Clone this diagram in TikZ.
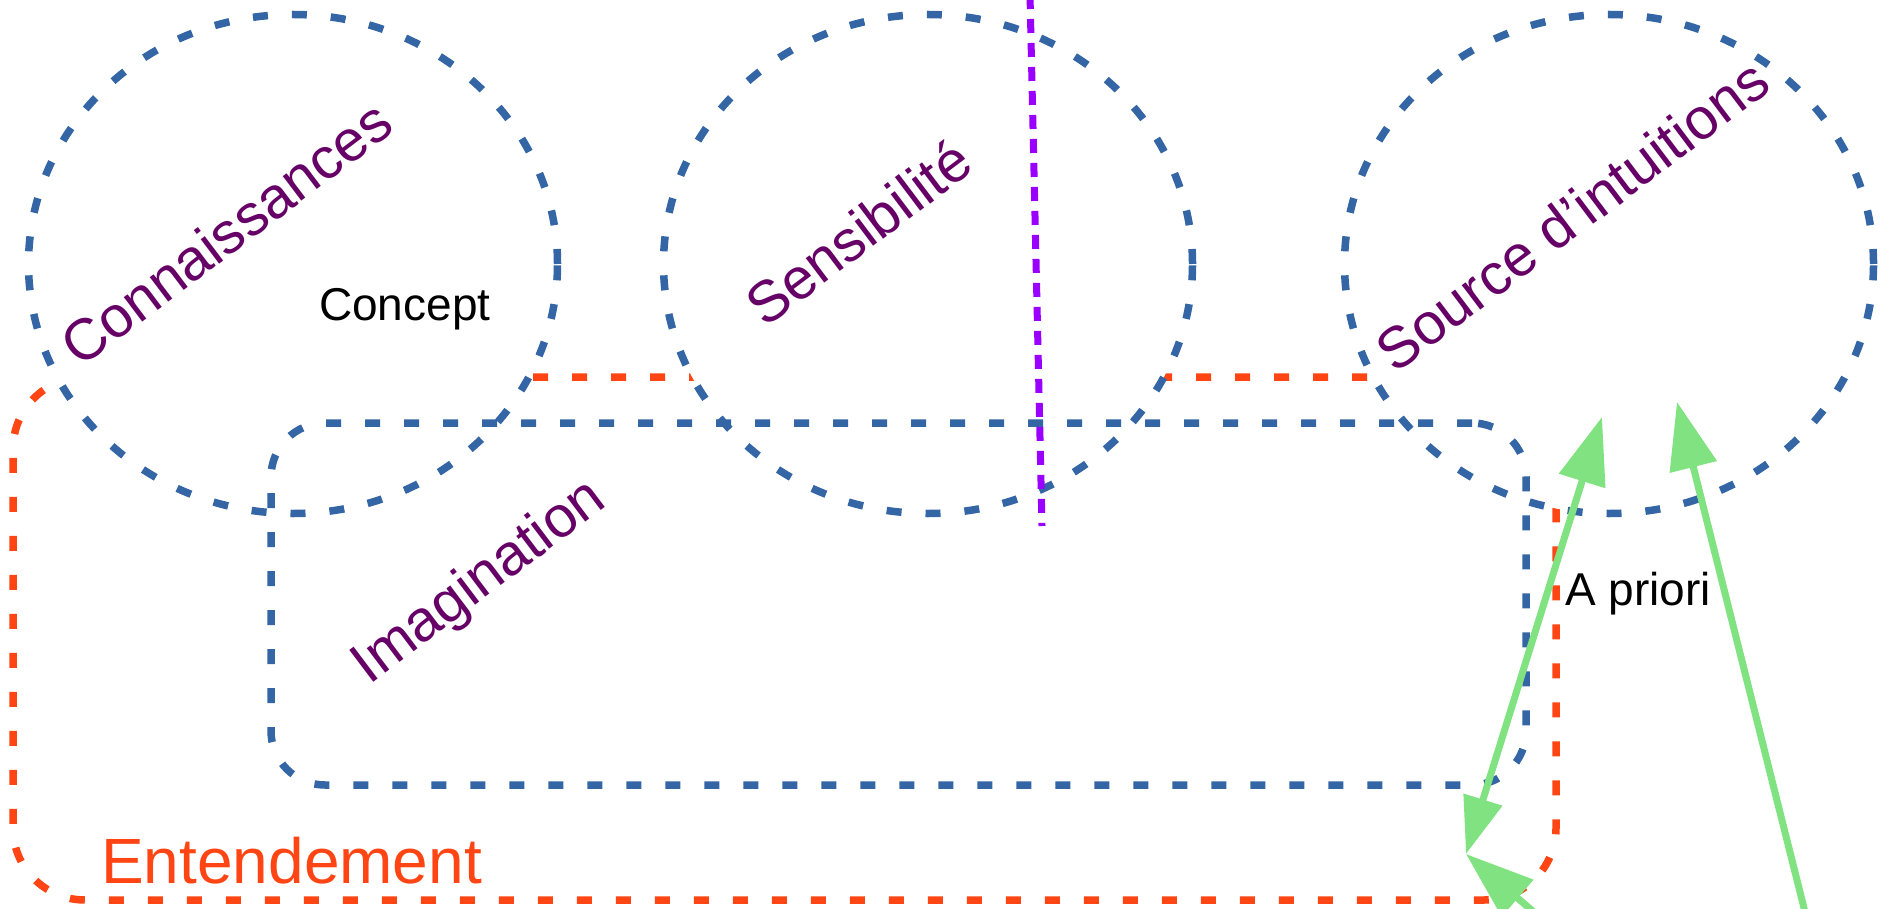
\documentclass[tikz,border=0pt]{standalone}
\usepackage{fontspec}
\setmainfont{Liberation Sans}
\usetikzlibrary{shapes.geometric,arrows.meta}
\definecolor{bblue}{HTML}{3465A4}
\definecolor{orng}{HTML}{FF4513}
\definecolor{purp}{HTML}{9900FF}
\definecolor{plum}{HTML}{660066}
\definecolor{lgreen}{RGB}{128,226,128}
\begin{document}
\begin{tikzpicture}[x=1pt,y=-1pt,
  bluedash/.style={draw=bblue, line width=7.5pt, dash pattern=on 15pt off 24pt},
  orangedash/.style={draw=orng, line width=7.5pt, dash pattern=on 15pt off 24pt},
  purpledash/.style={draw=purp, line width=7pt, dash pattern=on 14pt off 10pt},
  circ/.style={ellipse, bluedash, fill=white, minimum width=529pt, minimum height=499pt, inner sep=0pt},
  lbl/.style={text=plum, font=\fontsize{58}{70}\selectfont, rotate=37, inner sep=0pt},
  smalltxt/.style={font=\fontsize{46}{55}\selectfont, inner sep=0pt, anchor=base west},
  garrow/.style={draw=lgreen, line width=7pt}
]
\useasboundingbox (0,0) rectangle (1889,909);
\clip (0,0) rectangle (1889,909);

% Entendement (orange rounded rectangle)
\node[orangedash, rectangle, rounded corners=72pt, minimum width=1543pt, minimum height=523pt, inner sep=0pt] (ent) at (784.5,638.5) {};

% circles
\node[circ] (conn) at (293,264) {};
\node[circ] (sens) at (928,264) {};
\node[circ] (src) at (1609,264) {};

% Imagination (blue rounded rectangle)
\node[bluedash, rectangle, rounded corners=54pt, minimum width=1255pt, minimum height=362pt, inner sep=0pt] (imag) at (898.5,604) {};

% purple divider
\coordinate (ptop) at (1030,-5);
\coordinate (pbot) at (1042,526);
\draw[purpledash] (ptop) -- (pbot);

% labels
\node[lbl] (lconn) at (226,233) {Connaissances};
\node[lbl] (lsens) at (858,232) {Sensibilité};
\node[lbl] (lsrc) at (1572,215) {Source d’intuitions};
\node[lbl] (limag) at (480,583) {Imagination};
\node[smalltxt] (concept) at (319,320) {Concept};
\node[smalltxt] (apriori) at (1565,605) {A priori};
\node[text=orng, font=\fontsize{64}{76}\selectfont, inner sep=0pt, anchor=base west] (lent) at (101,883) {Entendement};

% green arrows
\coordinate (g1) at (1466,854);
\coordinate (g2) at (1602,417);
\coordinate (g3) at (1677,402);
\coordinate (g3t) at (1806,916);
\coordinate (g4t) at (1556,931);
\draw[garrow, {Triangle[length=57pt,width=39pt]}-{Triangle[length=67pt,width=47pt]}] (g1) -- (g2);
\draw[garrow, -{Triangle[length=67pt,width=47pt]}] (g3t) -- (g3);
\draw[garrow, -{Triangle[length=68pt,width=47pt]}] (g4t) -- (g1);
\end{tikzpicture}
\end{document}
